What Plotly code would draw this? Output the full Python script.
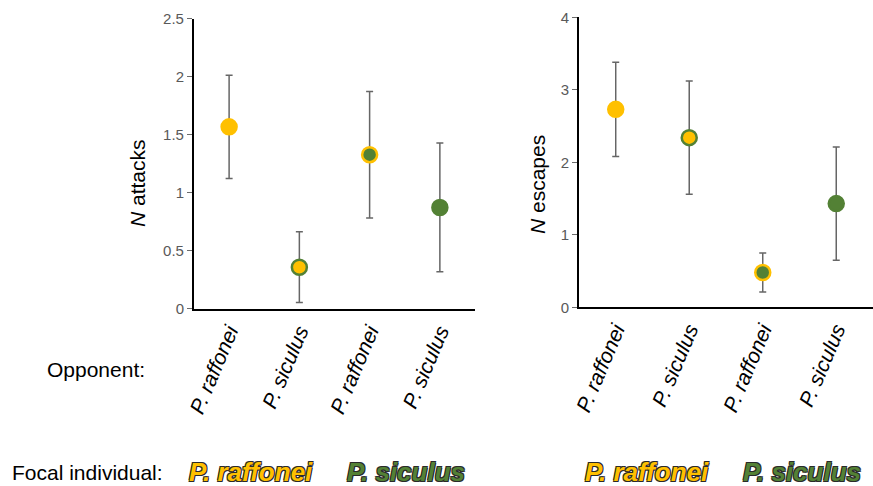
import plotly.graph_objects as go

opponents = ["P. raffonei", "P. siculus", "P. raffonei", "P. siculus"]
attacks_mean = [1.57, 0.36, 1.33, 0.875]
attacks_err = [0.445, 0.305, 0.545, 0.555]
escapes_mean = [2.73, 2.34, 0.48, 1.43]
escapes_err = [0.65, 0.78, 0.27, 0.78]
yticks_attacks = [0, 0.5, 1, 1.5, 2, 2.5]
yticks_escapes = [0, 1, 2, 3, 4]

YEL = "#FFC000"
GRN = "#538135"
fill_cols = [YEL, YEL, GRN, GRN]
line_cols = [YEL, GRN, YEL, GRN]
xs = list(range(len(opponents)))

fig = go.Figure()
for mean, err, xa, ya in [(attacks_mean, attacks_err, "x", "y"), (escapes_mean, escapes_err, "x2", "y2")]:
    fig.add_trace(go.Scatter(
        x=xs, y=mean, mode="markers", xaxis=xa, yaxis=ya,
        marker=dict(size=15, color=fill_cols, line=dict(color=line_cols, width=2.5)),
        error_y=dict(type="data", array=err, color="#666666", thickness=1.5, width=3.5),
        showlegend=False, hoverinfo="skip"))

xcommon = dict(range=[-0.5, 3.5], tickmode="array", tickvals=xs, ticktext=opponents,
               tickangle=-67, showline=True, linecolor="black", linewidth=2,
               showgrid=False, zeroline=False, ticks="", automargin=False,
               tickfont=dict(family="Liberation Sans, Arial", size=21, color="black", style="italic"))
ycommon = dict(showline=True, linecolor="black", linewidth=2, showgrid=False, zeroline=False,
               ticks="outside", ticklen=5, tickcolor="#6b6b6b", tickwidth=1, automargin=False,
               tickfont=dict(family="Liberation Sans, Arial", size=15, color="#595959"))

fig.update_layout(
    width=873, height=486, margin=dict(l=0, r=0, t=0, b=0, pad=0),
    paper_bgcolor="white", plot_bgcolor="white",
    xaxis=dict(domain=[0.2222, 0.5441], anchor="y", **xcommon),
    xaxis2=dict(domain=[0.6632, 1.0], anchor="y2", **xcommon),
    yaxis=dict(domain=[0.3642, 0.961], anchor="x", range=[0, 2.5], tickvals=yticks_attacks,
               ticktext=[str(v) for v in yticks_attacks], **ycommon),
    yaxis2=dict(domain=[0.3677, 0.9644], anchor="x2", range=[0, 4], tickvals=yticks_escapes, **ycommon),
)

def px_ann(text, x, y, size, color="black", font=None, **kw):
    f = dict(family="Liberation Sans, Arial", size=size, color=color)
    if font:
        f.update(font)
    fig.add_annotation(text=text, x=x / 873, y=1 - y / 486, xref="paper", yref="paper",
                       xanchor="center", yanchor="middle", showarrow=False, font=f, **kw)

px_ann("<i>N</i> attacks", 137, 183, 21, textangle=-90)
px_ann("<i>N</i> escapes", 537, 185, 21, textangle=-90)
px_ann("Opponent:", 96, 369, 21)
px_ann("Focal individual:", 87, 472, 21)

shadow = "-1px -1px 0 #2a2a2a, 1px -1px 0 #2a2a2a, -1px 1px 0 #2a2a2a, 1px 1px 0 #2a2a2a"
for xc, txt, col in [(251, "P. raffonei", YEL), (406, "P. siculus", GRN),
                     (647, "P. raffonei", YEL), (802, "P. siculus", GRN)]:
    px_ann(txt, xc, 472, 26, color=col,
           font=dict(weight="bold", style="italic", shadow=shadow))

fig.write_html("out.html")
